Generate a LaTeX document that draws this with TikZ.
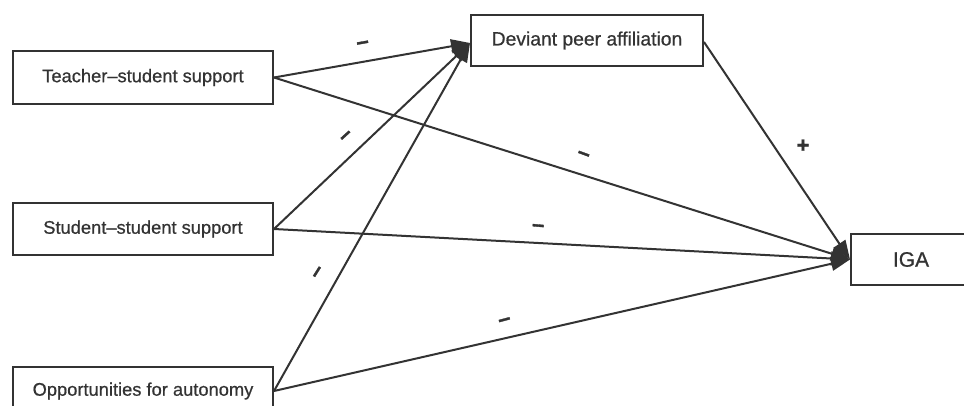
\documentclass[tikz,border=0pt]{standalone}
\usepackage{fontspec}
\setmainfont{Liberation Sans}[FakeBold=0.6]
\newfontfamily\signfont{Liberation Sans}[FakeBold=1.5]
\usetikzlibrary{arrows.meta}
\definecolor{ink}{HTML}{333333}
\tikzset{
  box/.style={draw=ink, line width=2pt, rectangle, inner sep=0pt, text=ink, font=\fontsize{18.3}{22}\selectfont},
  conn/.style={draw=ink, line width=2pt, -{Triangle[length=19pt,width=14pt]}},
  sign/.style={text=ink, inner sep=0pt, font=\signfont\bfseries\fontsize{22}{26}\selectfont}
}
\begin{document}
\begin{tikzpicture}[x=1pt,y=-1pt]
\useasboundingbox (0,0) rectangle (964,406);
\clip (0,0) rectangle (964,406);
\fill[white] (0,0) rectangle (964,406);
\node[box, minimum width=260pt, minimum height=53pt] (tss) at (143,77.5) {Teacher–student support};
\node[box, minimum width=260pt, minimum height=52pt] (sss) at (143,229) {Student–student support};
\node[box, minimum width=260pt, minimum height=48pt] (ofa) at (143,391) {Opportunities for autonomy};
\node[box, minimum width=232pt, minimum height=51pt, font=\fontsize{19.3}{23}\selectfont] (dpa) at (587,40.5) {Deviant peer affiliation};
\node[box, minimum width=120pt, minimum height=51pt, font=\fontsize{21}{25}\selectfont] (iga) at (911,259.5) {IGA};
\path (dpa.west) ++(0,2.5) coordinate (dpain);
\path (dpa.east) ++(0,1.5) coordinate (dpaout);
\draw[conn] (tss.east) -- (dpain);
\draw[conn] (sss.east) -- (dpain);
\draw[conn] (ofa.east) -- (dpain);
\draw[conn] (tss.east) -- (iga.west);
\draw[conn] (sss.east) -- (iga.west);
\draw[conn] (ofa.east) -- (iga.west);
\draw[conn] (dpaout) -- (iga.west);
\node[sign, rotate=10] (s1) at (363,45) {–};
\node[sign, rotate=42] (s2) at (347,137) {–};
\node[sign, rotate=58] (s3) at (319,273) {–};
\node[sign, rotate=-20] (s4) at (583,156) {–};
\node[sign, rotate=-5] (s5) at (538,228) {–};
\node[sign, rotate=15] (s6) at (505,322) {–};
\node[sign] (s7) at (803,146) {+};
\end{tikzpicture}
\end{document}
